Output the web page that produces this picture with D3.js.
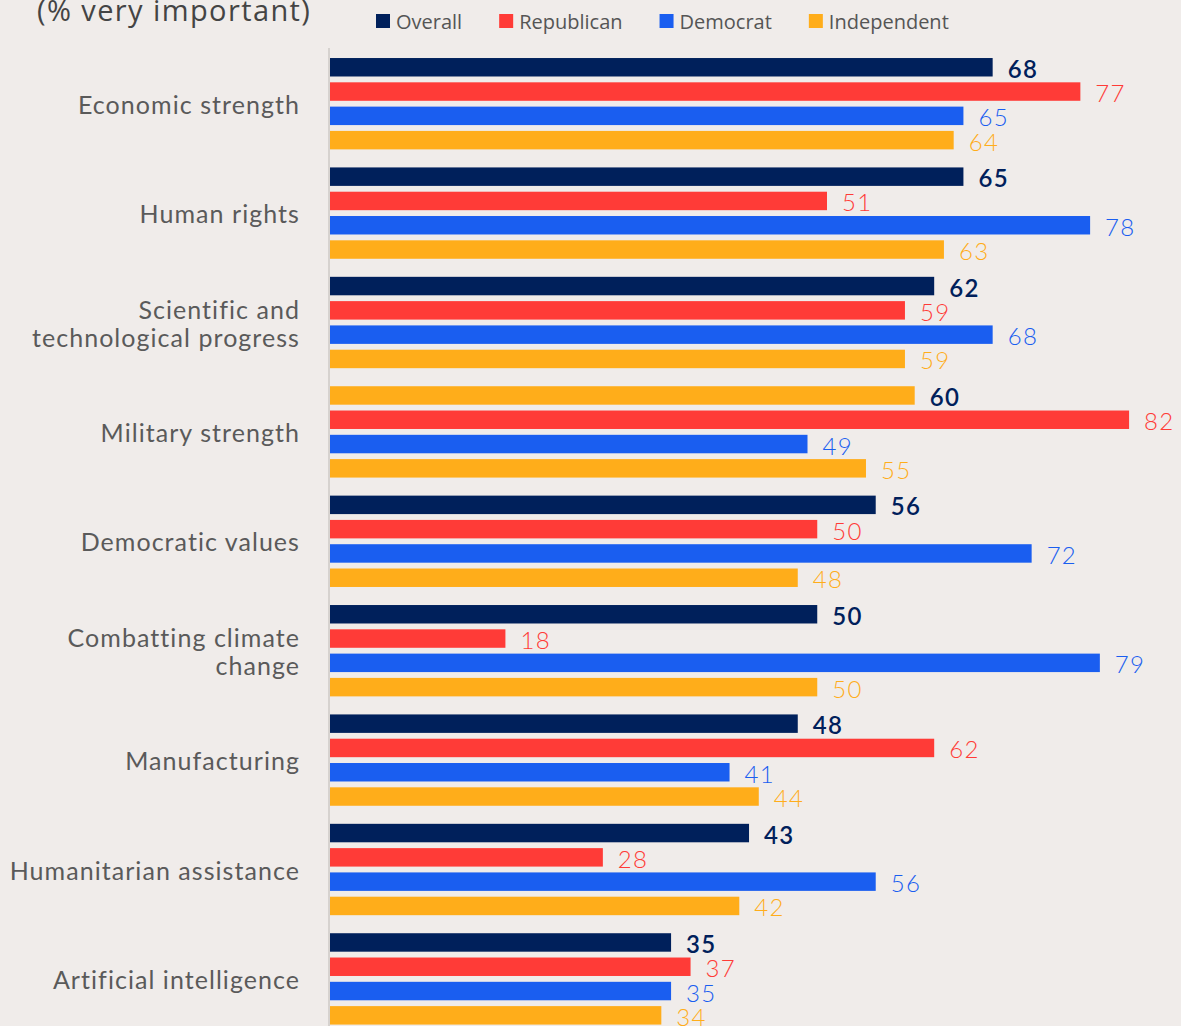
<!DOCTYPE html>
<html>
<head>
<meta charset="utf-8">
<script src="https://cdn.jsdelivr.net/npm/d3@7/dist/d3.min.js"></script>
<style>
  html, body { margin: 0; padding: 0; background: #f0ecea; }
  svg { display: block; }
</style>
</head>
<body>
<svg id="chart" width="1181" height="1026"></svg>
<script>
const categories = [
  "Economic strength",
  "Human rights",
  "Scientific and technological progress",
  "Military strength",
  "Democratic values",
  "Combatting climate change",
  "Manufacturing",
  "Humanitarian assistance",
  "Artificial intelligence"
];
const categoryLines = [
  ["Economic strength"],
  ["Human rights"],
  ["Scientific and", "technological progress"],
  ["Military strength"],
  ["Democratic values"],
  ["Combatting climate", "change"],
  ["Manufacturing"],
  ["Humanitarian assistance"],
  ["Artificial intelligence"]
];
const seriesNames = ["Overall", "Republican", "Democrat", "Independent"];
const overall     = [68, 65, 62, 60, 56, 50, 48, 43, 35];
const republican  = [77, 51, 59, 82, 50, 18, 62, 28, 37];
const democrat    = [65, 78, 68, 49, 72, 79, 41, 56, 35];
const independent = [64, 63, 59, 55, 48, 50, 44, 42, 34];
const titleText = "(% very important)";

const seriesValues = [overall, republican, democrat, independent];
const colors = { Overall: "#00205b", Republican: "#ff3b37", Democrat: "#1a5ef0", Independent: "#ffad1a" };

const svg = d3.select("#chart");
const W = 1181, H = 1026;

svg.append("rect").attr("width", W).attr("height", H).attr("fill", "#f0ecea");

const x = d3.scaleLinear().domain([0, 100]).range([330, 330 + 974.5]);
const yGroup = d3.scaleBand().domain(categories).range([49, 1033.6]).paddingInner(0.165).paddingOuter(0.0825);
const yInner = d3.scaleBand().domain(seriesNames).range([0, yGroup.bandwidth()]).paddingInner(0.24);

// title (partially cut off at top)
svg.append("text")
  .attr("x", 37).attr("y", 21)
  .attr("font-family", "Open Sans, sans-serif")
  .attr("font-size", 29)
  .attr("letter-spacing", 1.4)
  .attr("fill", "#444")
  .text(titleText);

// legend
const legend = svg.append("g");
let lx = 376;
seriesNames.forEach(name => {
  legend.append("rect").attr("x", lx).attr("y", 14).attr("width", 14).attr("height", 14).attr("fill", colors[name]);
  const t = legend.append("text")
    .attr("x", lx + 20).attr("y", 21)
    .attr("dominant-baseline", "central")
    .attr("font-family", "Open Sans, sans-serif")
    .attr("font-size", 20)
    .attr("fill", "#555")
    .text(name);
  lx += 20 + t.node().getComputedTextLength() + 37;
});

// axis line
svg.append("line")
  .attr("x1", 329).attr("x2", 329)
  .attr("y1", 48).attr("y2", H)
  .attr("stroke", "#d6d2cf").attr("stroke-width", 2);

// groups
const rows = [];
categories.forEach((c, i) => {
  seriesNames.forEach((s, j) => {
    rows.push({ cat: c, ci: i, series: s, value: seriesValues[j][i] });
  });
});

const g = svg.append("g");
g.selectAll("rect.bar")
  .data(rows)
  .join("rect")
  .attr("class", "bar")
  .attr("x", x(0))
  .attr("y", d => yGroup(d.cat) + yInner(d.series))
  .attr("width", d => x(d.value) - x(0))
  .attr("height", yInner.bandwidth())
  .attr("fill", d => (d.cat === "Military strength" && d.series === "Overall") ? colors.Independent : colors[d.series]);

g.selectAll("text.val")
  .data(rows)
  .join("text")
  .attr("class", "val")
  .attr("x", d => x(d.value) + 15)
  .attr("y", d => yGroup(d.cat) + yInner(d.series) + yInner.bandwidth() / 2 + 1)
  .attr("dominant-baseline", "central")
  .attr("font-family", "Lato, sans-serif")
  .attr("font-size", 24)
  .attr("letter-spacing", 1.3)
  .attr("font-weight", d => d.series === "Overall" ? 600 : 300)
  .attr("fill", d => colors[d.series])
  .text(d => d.value);

// category labels
categories.forEach((c, i) => {
  const lines = categoryLines[i];
  const cy = yGroup(c) + yGroup.bandwidth() / 2;
  const lh = 28;
  const t = svg.append("text")
    .attr("x", 300)
    .attr("text-anchor", "end")
    .attr("font-family", "Lato, sans-serif")
    .attr("font-size", 25)
    .attr("letter-spacing", 1.05)
    .attr("fill", "#5a5a5a");
  lines.forEach((ln, k) => {
    t.append("tspan")
      .attr("x", 300)
      .attr("y", cy + (k - (lines.length - 1) / 2) * lh)
      .attr("dominant-baseline", "central")
      .text(ln);
  });
});
</script>
</body>
</html>
